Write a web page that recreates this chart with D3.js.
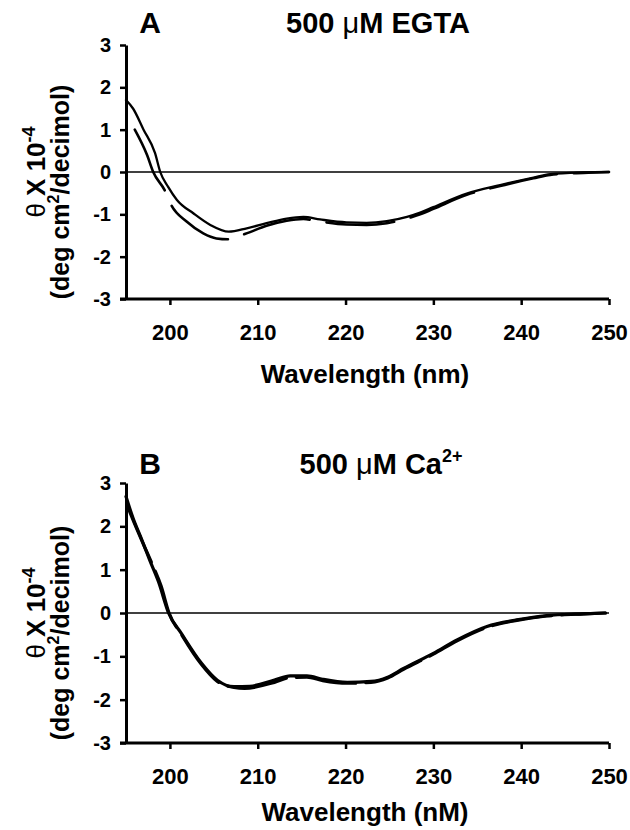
<!DOCTYPE html>
<html><head><meta charset="utf-8">
<script src="https://cdn.jsdelivr.net/npm/d3@7"></script>
<style>
html,body{margin:0;padding:0;background:#fff;}
text{font-family:"Liberation Sans",Arial,sans-serif;font-weight:bold;fill:#000;}
</style></head>
<body><svg id="c" width="630" height="830"></svg>
<script>
// ---------- data ----------
const xTicks = [200, 210, 220, 230, 240, 250];
const yTicks = [-3, -2, -1, 0, 1, 2, 3];

// Panel A (500 µM EGTA)
const waveA_solid = [195,195.8,197,198.3,198.9,199.8,200.8,202.7,204.6,206.7,208.75,211,213.3,215.2,217.1,220.1,222.4,224.7,227,228.5,230,233.8,237.6,241.4,243.3,247.1,250];
const thetaA_solid = [1.70,1.50,1.0,0.45,0.0,-0.35,-0.66,-0.98,-1.25,-1.41,-1.33,-1.21,-1.10,-1.06,-1.12,-1.19,-1.20,-1.16,-1.06,-0.96,-0.83,-0.51,-0.31,-0.13,-0.05,-0.01,0];
const waveA_dashed = [196,197.4,198.1,199.4,200.2,201.9,203.8,205.3,206.6,208.6,211,213.3,215.2,217.1,220.1,222.4,224.7,227,228.5,230,233.8,237.6,241.4,243.3,247.1,250];
const thetaA_dashed = [1.0,0.40,0.0,-0.43,-0.80,-1.17,-1.45,-1.57,-1.59,-1.46,-1.27,-1.15,-1.11,-1.17,-1.24,-1.25,-1.21,-1.10,-1.0,-0.87,-0.54,-0.33,-0.15,-0.07,-0.02,0];

// Panel B (500 µM Ca2+)
const waveB_solid = [195,195.8,196.8,197.7,198.7,199.85,201.3,203.6,205.4,207.3,209.1,211.9,213.7,215.6,217.4,220.2,222.9,224.8,226.6,230,232.7,236.1,239.5,242.9,247.1,249.6];
const thetaB_solid = [2.69,2.19,1.69,1.22,0.72,0,-0.47,-1.16,-1.55,-1.70,-1.69,-1.55,-1.45,-1.45,-1.53,-1.60,-1.58,-1.48,-1.28,-0.93,-0.62,-0.31,-0.16,-0.06,-0.02,0];
const waveB_dashed = [195.2,196,197,198,199,199.9,201.3,203.6,205.4,207.3,208.5,211.9,213.7,215.6,217.4,220.2,222.9,224.8,226.6,230,232.7,236.1,239.5,242.9,247.1,249.6];
const thetaB_dashed = [2.45,2.05,1.58,1.12,0.62,0,-0.49,-1.19,-1.58,-1.72,-1.74,-1.60,-1.49,-1.48,-1.56,-1.62,-1.60,-1.50,-1.30,-0.95,-0.64,-0.33,-0.17,-0.07,-0.02,0];

// ---------- drawing ----------
const svg = d3.select("#c");
const FONT = '"Liberation Sans",Arial,sans-serif';

function panel(cfg){
  const x = d3.scaleLinear().domain([195, 250]).range([126, 609]);
  const y = d3.scaleLinear().domain([-3, 3]).range([cfg.bottom, cfg.top]);
  const g = svg.append("g");

  // zero line
  g.append("line").attr("x1", x(195)).attr("x2", x(250))
    .attr("y1", y(0)).attr("y2", y(0)).attr("stroke", "#000").attr("stroke-width", 1.6);

  const line = d3.line().x(d => x(d[0])).y(d => y(d[1])).curve(d3.curveMonotoneX);

  cfg.series.forEach(s => {
    g.append("path").datum(d3.zip(s.w, s.t))
      .attr("d", line).attr("fill", "none").attr("stroke", "#000")
      .attr("stroke-width", s.width)
      .attr("stroke-linecap", "round")
      .attr("stroke-dasharray", s.dash || null);
  });

  // axes
  const ya = g.append("g").attr("transform", `translate(${x(195)},0)`)
    .call(d3.axisLeft(y).tickValues(yTicks).tickSize(6).tickSizeOuter(0).tickPadding(9)
      .tickFormat(d => String(d)));
  const xa = g.append("g").attr("transform", `translate(0,${y(-3)})`)
    .call(d3.axisBottom(x).tickValues(xTicks).tickSize(6).tickSizeOuter(0).tickPadding(19)
      .tickFormat(d => String(d)));
  [ya, xa].forEach(a => {
    a.select(".domain").attr("stroke-width", 3);
    a.selectAll(".tick line").attr("stroke-width", 2.5);
    a.selectAll("text").style("font-family", FONT)
      .style("font-weight", "bold").attr("fill", "#000");
  });
  ya.selectAll("text").style("font-size", "20px");
  xa.selectAll("text").style("font-size", "22px");
  xa.select(".domain").attr("d", `M${x(195)-6},0H${x(250)}`);

  // panel letter
  g.append("text").attr("x", 150).attr("y", cfg.titleY).attr("text-anchor", "middle")
    .style("font-size", "30px").text(cfg.letter);

  // title
  const t = g.append("text").attr("x", cfg.titleX).attr("y", cfg.titleY).attr("text-anchor", "middle")
    .style("font-size", "29px");
  t.append("tspan").text("500 ");
  t.append("tspan").style("font-weight", "normal").text("\u03BC");
  t.append("tspan").text(cfg.titleRest);
  if (cfg.sup) t.append("tspan").attr("dy", -12).style("font-size", "18px").text(cfg.sup);

  // x title
  g.append("text").attr("x", 365).attr("y", cfg.xTitleY).attr("text-anchor", "middle")
    .style("font-size", "26px").text(cfg.xTitle);

  // y titles
  const c0 = y(0);
  const y1 = g.append("text").attr("transform", `translate(45,${c0}) rotate(-90)`)
    .attr("text-anchor", "middle").style("font-size", "26px");
  y1.append("tspan").style("font-weight", "normal").text("\u03B8");
  y1.append("tspan").text(" X 10");
  y1.append("tspan").attr("dy", -10).style("font-size", "18px").text("-4");

  const y2 = g.append("text").attr("transform", `translate(69,${c0 + 20}) rotate(-90)`)
    .attr("text-anchor", "middle").style("font-size", "25px");
  y2.append("tspan").text("(deg cm");
  y2.append("tspan").attr("dy", -10).style("font-size", "16px").text("2");
  y2.append("tspan").attr("dy", 10).text("/decimol)");
}

panel({
  top: 45, bottom: 299, letter: "A", titleRest: "M EGTA", sup: null,
  titleX: 378, titleY: 33, xTitleY: 383,
  xTitle: "Wavelength (nm)",
  series: [
    {w: waveA_solid, t: thetaA_solid, width: 2.3},
    {w: waveA_dashed, t: thetaA_dashed, width: 2.6, dash: "68,17"}
  ]
});
panel({
  top: 483, bottom: 743, letter: "B", titleRest: "M Ca", sup: "2+",
  titleX: 381, titleY: 474, xTitleY: 821,
  xTitle: "Wavelength (nM)",
  series: [
    {w: waveB_solid, t: thetaB_solid, width: 3.2},
    {w: waveB_dashed, t: thetaB_dashed, width: 3.2, dash: "60,10"}
  ]
});
</script></body></html>
